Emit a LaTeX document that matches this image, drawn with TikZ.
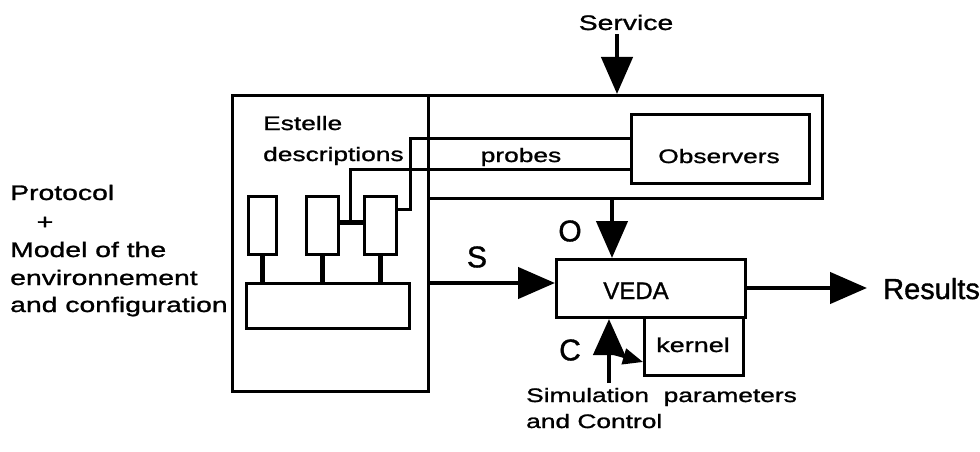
\documentclass[tikz,border=0pt]{standalone}
\usepackage{fontspec}
\setmainfont[FakeStretch=1.35,FakeBold=1.2]{Liberation Sans}
\newfontfamily\plainf[FakeBold=1.2]{Liberation Sans}
\usetikzlibrary{arrows.meta}
\begin{document}
\begin{tikzpicture}[x=1pt,y=-1pt,
  boxn/.style={draw,line width=3pt,inner sep=0pt,anchor=north west},
  wire/.style={line width=3pt},
  thickw/.style={line width=5pt},
  bigarrow/.style={line width=4.5pt,-{Triangle[length=37pt,width=31pt]}},
  txt/.style={inner sep=0pt,font=\fontsize{19.5}{24}\selectfont},
  lbl/.style={inner sep=0pt,font=\plainf\fontsize{30}{34}\selectfont}]
\useasboundingbox (0,0) rectangle (980,452);
% boxes
\node[boxn,minimum width=196pt,minimum height=296pt] (estelle) at (231,94) {};
\node[boxn,minimum width=394pt,minimum height=103pt] (obsarea) at (427,94) {};
\node[boxn,minimum width=178pt,minimum height=69pt] (observers) at (630,113) {};
\node[boxn,minimum width=28pt,minimum height=58pt] (r1) at (247,195) {};
\node[boxn,minimum width=32pt,minimum height=58pt] (r2) at (305,195) {};
\node[boxn,minimum width=32pt,minimum height=58pt] (r3) at (363,195) {};
\node[boxn,minimum width=163pt,minimum height=45pt] (base) at (245,282) {};
\node[boxn,minimum width=189pt,minimum height=58pt] (veda) at (555,258) {};
\node[boxn,minimum width=99pt,minimum height=58pt] (kernel) at (643,316) {};
% texts
\node[txt,anchor=base] at (719,163) {Observers};
\node[txt,anchor=base] at (521,162) {probes};
\node[txt,anchor=base west] (e1) at (263,130) {Estelle};
\node[txt,anchor=base west] (e2) at (263,161) {descriptions};
\node[anchor=base,inner sep=0pt,font=\plainf\fontsize{24}{28}\selectfont] (vedat) at (636,299) {VEDA};
\node[txt,anchor=base,font=\fontsize{20}{24}\selectfont] (kernelt) at (693,352) {kernel};
\node[txt,anchor=base,font=\fontsize{21}{24}\selectfont] (service) at (626,30) {Service};
\node[lbl,anchor=center] (slbl) at (477,257) {S};
\node[lbl,anchor=center] (olbl) at (570,231) {O};
\node[lbl,anchor=center] (clbl) at (570,350) {C};
\node[anchor=base west,inner sep=0pt,font=\plainf\fontsize{29}{32}\selectfont] (results) at (883,299) {Results};
\node[txt,anchor=base west,font=\fontsize{21}{27}\selectfont] (l1) at (10,200) {Protocol};
\node[txt,anchor=base,font=\fontsize{21}{27}\selectfont] (l2) at (45,229) {+};
\node[txt,anchor=base west,font=\fontsize{21}{27}\selectfont] (l3) at (10,257) {Model of the};
\node[txt,anchor=base west,font=\fontsize{21}{27}\selectfont] (l4) at (10,285) {environnement};
\node[txt,anchor=base west,font=\fontsize{21}{27}\selectfont] (l5) at (10,312) {and configuration};
\node[txt,anchor=base west] (sim1) at (526,402) {Simulation\ \ parameters};
\node[txt,anchor=base west] (sim2) at (526,428) {and Control};
% internal connectors
\draw[thickw] (r1.south) -- (r1.south |- base.north);
\draw[thickw] (r2.south) -- (r2.south |- base.north);
\draw[thickw] (r3.south) -- (r3.south |- base.north);
\coordinate (p1) at (410,138);
\coordinate (j) at (350,222);
\coordinate (p2) at (350,169);
\draw[wire] ([yshift=16pt]r3.east) -| (p1) -- (p1 -| observers.west);
\draw[thickw] (j -| r2.east) -- (j -| r3.west);
\draw[wire] (j) -- (p2) -- (p2 -| observers.west);
% arrows
\coordinate (svc) at (617,34);
\draw[bigarrow] (svc) -- (svc |- obsarea.north);
\coordinate (oa) at (612,0);
\draw[bigarrow] (oa |- obsarea.south) -- (oa |- veda.north);
\coordinate (sa) at (0,283);
\draw[bigarrow] (sa -| estelle.east) -- (sa -| veda.west);
\coordinate (ra) at (0,288);
\coordinate (rend) at (867,288);
\draw[bigarrow] (ra -| veda.east) -- (rend);
\coordinate (ca) at (609,383);
\draw[bigarrow,-{Triangle[length=36pt,width=31pt]}] (ca) -- (ca |- veda.south);
\coordinate (ka) at (612,353);
\coordinate (kb) at (0,362);
\draw[line width=3pt,-{Triangle[length=20pt,width=16pt]}] (ka) -- (kernel.west |- kb);
\end{tikzpicture}
\end{document}
